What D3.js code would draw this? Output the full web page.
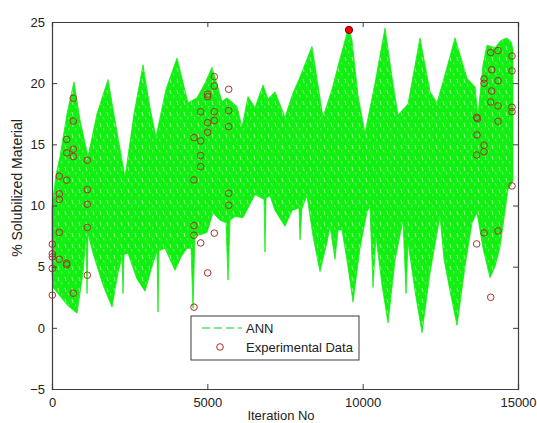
<!DOCTYPE html>
<html>
<head>
<meta charset="utf-8">
<script src="https://cdn.jsdelivr.net/npm/d3@7"></script>
<style>
  html, body { margin: 0; padding: 0; background: #ffffff; }
  svg { display: block; font-family: "Liberation Sans", Arial, sans-serif; }
</style>
</head>
<body>
<svg id="chart" width="537" height="423"></svg>
<script>
// ---------------- DATA ----------------
// ANN output band (dense oscillation) read as upper / lower envelope
const annUpperIter = [0,129,258,483,708,901,1159,1449,1803,2060,2350,2640,2929,3155,3348,3670,4024,4378,4668,4925,5150,5472,5633,5955,6116,6309,6535,6792,6953,7178,7500,7758,7983,8369,8724,9013,9271,9496,9560,9657,9850,10075,10397,10719,10944,11138,11460,11653,11846,12168,12393,12683,12973,13359,13616,13713,13874,14003,14260,14453,14646,14775,14839];
const annUpper     = [9.8,12.5,14.0,17.5,20.1,17.0,14.0,17.5,20.3,16.5,12.3,17.5,21.5,18.0,15.6,19.5,22.05,18.4,18.8,20.0,21.3,18.5,18.8,18.1,16.4,18.9,18.0,19.85,18.7,19.3,17.2,19.2,20.5,23.0,17.2,19.5,22.0,24.1,24.4,23.5,19.0,15.9,20.0,24.5,20.5,17.4,18.3,21.0,23.7,19.3,18.4,21.0,23.7,20.4,19.7,17.4,21.5,23.1,22.9,23.5,23.7,23.4,22.8];
const annLowerIter = [0,32,258,515,805,998,1094,1127,1159,1320,1642,1931,2125,2253,2286,2318,2446,2736,2994,3219,3380,3412,3445,3638,3960,4153,4346,4475,4539,4603,4764,4990,5183,5408,5601,5665,5730,5891,6149,6535,6825,6856,6889,7017,7178,7500,7725,7951,7983,8048,8208,8401,8627,8852,8949,9110,9207,9335,9528,9689,9914,10140,10236,10333,10429,10622,10816,11041,11299,11395,11460,11685,11911,12168,12490,12619,12812,13037,13294,13520,13681,13874,14100,14260,14421,14679,14839];
const annLower     = [4.5,3.3,2.6,1.8,1.2,4.5,7.5,2.8,7.7,6.1,3.5,1.7,4.5,5.8,2.8,6.0,6.1,4.0,3.0,5.0,6.3,1.3,6.3,6.5,4.7,5.8,6.5,6.5,1.6,7.5,7.6,7.8,9.4,8.8,8.6,3.9,8.8,9.1,9.0,10.9,10.5,6.2,10.6,10.8,9.6,8.3,9.6,9.8,7.2,9.8,10.8,7.5,4.6,7.0,8.3,5.6,8.0,8.0,5.0,2.1,6.5,9.5,9.9,3.3,7.5,3.5,0.4,5.5,8.8,2.8,7.0,3.0,-0.4,4.5,9.1,5.6,3.0,0.2,5.0,8.6,9.4,6.5,4.1,5.0,6.6,11.3,12.0];

// Experimental data (open circles)
const expIter  = [10,10,10,10,10, 235,235,235,235,235, 473,473,473,473,473, 686,686,686,686,686, 1137,1137,1137,1137,1137,
                  4571,4571,4571,4571,4571, 4786,4786,4786,4786,4786, 5011,5011,5011,5011,5011, 5225,5225,5225,5225,5225, 5688,5688,5688,5688,5688,
                  13670,13700,13680,13670,13670, 13906,13906,13906,13906,13906, 14122,14154,14154,14122,14122, 14357,14357,14357,14357,14357, 14807,14807,14807,14807,14807];
const expValue = [6.84,6.05,5.8,4.85,2.67, 12.4,10.95,10.5,7.8,5.6, 15.4,14.3,12.07,5.28,5.15, 18.77,16.9,14.6,14.0,2.83, 13.7,11.3,10.1,8.2,4.3,
                  15.55,12.09,8.36,7.57,1.69, 17.67,15.28,14.08,13.18,6.94, 19.1,18.9,16.77,15.98,4.49, 20.53,19.77,17.67,16.94,7.74, 19.5,17.75,16.45,11.0,10.02,
                  17.21,17.1,15.77,14.13,6.86, 20.34,19.99,14.93,14.4,7.76, 22.5,21.1,19.36,18.46,2.5, 22.66,20.2,18.14,16.89,7.92, 22.22,21.0,18.03,17.67,11.6];
// highlighted maximum point
const peakIter = [9560];
const peakValue = [24.35];

const xTicks = [0, 5000, 10000, 15000];
const yTicks = [-5, 0, 5, 10, 15, 20, 25];
const legendLabels = ["ANN", "Experimental Data"];
const xTitle = "Iteration No";
const yTitle = "% Solubilized Material";

// ---------------- LAYOUT ----------------
const L = 52, R = 518, T = 22, B = 389;
const svg = d3.select("#chart");
const x = d3.scaleLinear().domain([0, 15000]).range([L, R]);
const y = d3.scaleLinear().domain([-5, 25]).range([B, T]);

const axisColor = "#3c3c3c";
const green = "#12ef12";
const markerStroke = "#a8302a";

// pattern mimicking the dense dashed line texture
const defs = svg.append("defs");
const pat = defs.append("pattern").attr("id", "annTex").attr("patternUnits", "userSpaceOnUse")
  .attr("width", 7).attr("height", 11);
pat.append("rect").attr("width", 7).attr("height", 11).attr("fill", green);
pat.append("line").attr("x1", 2).attr("y1", 2).attr("x2", 3).attr("y2", 6)
  .attr("stroke", "#d8f8c8").attr("stroke-width", 1).attr("opacity", 0.7);
pat.append("line").attr("x1", 5.5).attr("y1", 7).attr("x2", 6).attr("y2", 9.5)
  .attr("stroke", "#e8fad8").attr("stroke-width", 0.8).attr("opacity", 0.5);

// ANN band
const upperPts = annUpperIter.map((d, i) => [d, annUpper[i]]);
const lowerPts = annLowerIter.map((d, i) => [d, annLower[i]]).reverse();
const band = d3.line().x(d => x(d[0])).y(d => y(d[1]));
svg.append("path")
  .attr("d", band(upperPts.concat(lowerPts)) + "Z")
  .attr("fill", "url(#annTex)")
  .attr("stroke", green).attr("stroke-width", 0.8);

// axes frame
const gx = svg.append("g").attr("transform", `translate(0,${B})`)
  .call(d3.axisBottom(x).tickValues(xTicks).tickSize(-5).tickPadding(9).tickFormat(d3.format("d")));
const gxTop = svg.append("g").attr("transform", `translate(0,${T})`)
  .call(d3.axisTop(x).tickValues(xTicks).tickSize(-5).tickFormat(""));
const gy = svg.append("g").attr("transform", `translate(${L},0)`)
  .call(d3.axisLeft(y).tickValues(yTicks).tickSize(-5).tickPadding(7).tickFormat(d3.format("d")));
const gyR = svg.append("g").attr("transform", `translate(${R},0)`)
  .call(d3.axisRight(y).tickValues(yTicks).tickSize(-5).tickFormat(""));

[gx, gxTop, gy, gyR].forEach(g => {
  g.select(".domain").attr("stroke", axisColor).attr("stroke-width", 1.2);
  g.selectAll(".tick line").attr("stroke", axisColor);
  g.selectAll(".tick text").attr("fill", "#222").style("font-size", "13px")
    .style("font-family", '"Liberation Sans", Arial, sans-serif');
});

// experimental points
svg.append("g").selectAll("circle").data(expIter.map((d, i) => [d, expValue[i]]))
  .join("circle")
  .attr("cx", d => x(d[0])).attr("cy", d => y(d[1])).attr("r", 3.3)
  .attr("fill", "none").attr("stroke", markerStroke).attr("stroke-width", 1);

svg.append("g").selectAll("circle").data(peakIter.map((d, i) => [d, peakValue[i]]))
  .join("circle")
  .attr("cx", d => x(d[0])).attr("cy", d => y(d[1])).attr("r", 3.6)
  .attr("fill", "#ff0000").attr("stroke", "#6a0000").attr("stroke-width", 1);

// titles
svg.append("text").attr("x", (L + R) / 2 - 4).attr("y", 420)
  .attr("text-anchor", "middle").attr("fill", "#222").style("font-size", "13px").text(xTitle);
svg.append("text").attr("transform", `translate(22,${188}) rotate(-90)`)
  .attr("text-anchor", "middle").attr("fill", "#222").style("font-size", "14px").text(yTitle);

// legend
const lg = svg.append("g");
lg.append("rect").attr("x", 191).attr("y", 316).attr("width", 168).attr("height", 44)
  .attr("fill", "#fff").attr("stroke", axisColor).attr("stroke-width", 1);
lg.append("line").attr("x1", 202).attr("x2", 242).attr("y1", 328).attr("y2", 328)
  .attr("stroke", "#5ee05e").attr("stroke-width", 1.5).attr("stroke-dasharray", "8,4");
lg.append("circle").attr("cx", 220).attr("cy", 347).attr("r", 3.3)
  .attr("fill", "none").attr("stroke", markerStroke).attr("stroke-width", 1);
lg.selectAll("text.lab").data(legendLabels).join("text").attr("class", "lab")
  .attr("x", 246).attr("y", (d, i) => 332.5 + i * 19)
  .attr("fill", "#222").style("font-size", "13px").text(d => d);
</script>
</body>
</html>
